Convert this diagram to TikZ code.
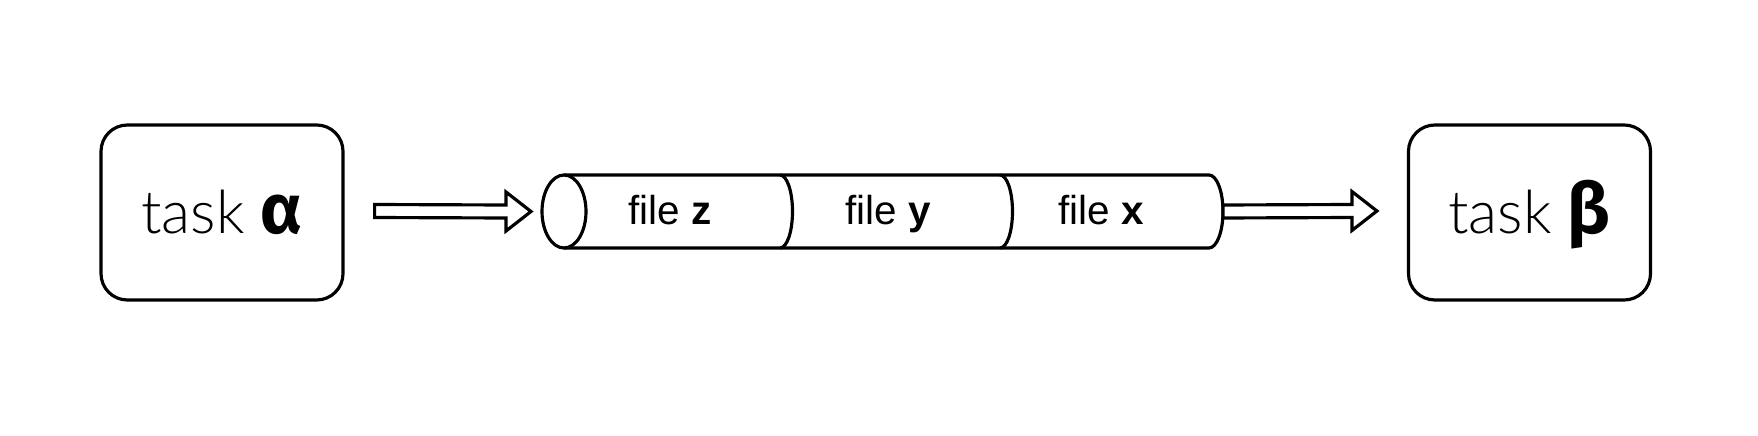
\documentclass[tikz,border=0pt]{standalone}
\usepackage{fontspec}
\setmainfont{Lato}
\newfontfamily\taskfont{Lato Light}
\newfontfamily\filefont{Liberation Sans}
\newfontfamily\greekfont{Fira Sans}
\usetikzlibrary{calc,positioning}
\tikzset{task/.style={draw, line width=0.9pt, rounded corners=7.5pt, minimum width=2.42cm, minimum height=1.75cm, text height=1.2em, text depth=0pt, font=\taskfont\fontsize{17}{17}\selectfont},
  pipe/.style={line width=0.9pt},
  flow/.style={draw, line width=0.9pt, fill=white, line join=miter},
  lab/.style={text height=0.75em, text depth=0pt, font=\filefont\fontsize{11.5}{11.5}\selectfont}}

% hollow block arrow between two named coordinates
\newcommand{\blockarrow}[2]{%
  \draw[flow] ($(#1)+(0,0.065)$) -- ($(#2)+(-0.25,0.065)$) -- ($(#2)+(-0.25,0.195)$) -- (#2)
    -- ($(#2)+(-0.25,-0.195)$) -- ($(#2)+(-0.25,-0.065)$) -- ($(#1)+(0,-0.065)$) -- cycle;}
\newcommand{\gk}[1]{{\greekfont\bfseries\fontsize{20}{20}\selectfont #1}}

\begin{document}
\begin{tikzpicture}

\useasboundingbox (0,0) rectangle (17.58,-4.36);

% Nodes
\node[task] (taskA) at (2.22,-2.125) {task \gk{α}};
\node[task] (taskB) at (15.295,-2.125) {task \gk{β}};

\coordinate (pipeL) at (5.64,-2.115);
\coordinate (pipeR) at (12.09,-2.115);
\coordinate (pipeIn)  at ($(pipeL)+(-0.22,0)$);
\coordinate (pipeOut) at ($(pipeR)+(0.14,0)$);

% Pipe
\draw[pipe] (pipeL) ellipse [x radius=0.22, y radius=0.365];
\draw[pipe] ($(pipeL)+(0,0.365)$) -- ($(pipeR)+(0,0.365)$)
  arc[start angle=90, end angle=-90, x radius=0.14, y radius=0.365] -- ($(pipeL)+(0,-0.365)$);
\foreach \d in {7.80,10.00}
  \draw[pipe] (\d,-1.75) arc[start angle=90, end angle=-90, x radius=0.125, y radius=0.365];

% File labels
\node[lab] (fileZ) at (6.70,-2.11) {file \textbf{z}};
\node[lab] (fileY) at (8.88,-2.11) {file \textbf{y}};
\node[lab] (fileX) at (11.01,-2.11) {file \textbf{x}};

% Arrows
\coordinate (arrA0) at ($(taskA.east)+(0.30,0.015)$);
\coordinate (arrA1) at ($(pipeIn)+(-0.11,0)$);
\coordinate (arrB1) at ($(taskB.west)+(-0.30,0.015)$);
\blockarrow{arrA0}{arrA1}
\blockarrow{pipeOut}{arrB1}

\end{tikzpicture}
\end{document}
